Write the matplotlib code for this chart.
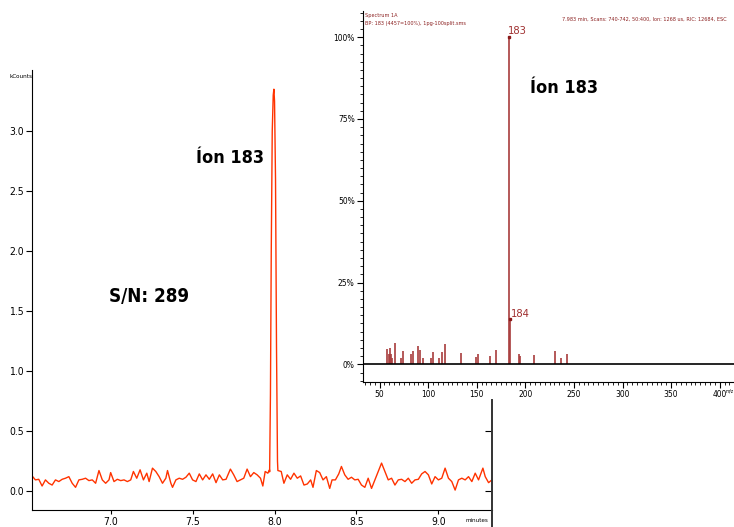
import numpy as np
import matplotlib
matplotlib.use("Agg")
import matplotlib.pyplot as plt
import matplotlib.ticker as ticker
from matplotlib import font_manager

# chromatogram baseline (zoom pixel x, intensity kCounts)
base_left_px = [95, 105, 115, 125, 135, 145, 155, 165, 175, 185, 195, 205, 215, 225,
                235, 245, 255, 265, 275, 285, 295, 305, 315, 325, 330, 340, 350, 360,
                370, 380, 390, 398, 408, 418, 428, 438, 445, 455, 465, 475, 485, 495,
                500, 510, 515, 525, 535, 545, 555, 565, 575, 585, 595, 605, 615, 625,
                635, 645, 655, 665, 675, 688, 698, 708, 718, 728, 738, 748, 758, 768,
                778, 785, 792, 800, 805]
base_left_val = [0.126, 0.093, 0.098, 0.042, 0.093, 0.065, 0.050, 0.093, 0.079, 0.098,
                 0.107, 0.120, 0.065, 0.031, 0.093, 0.098, 0.107, 0.087, 0.093, 0.065,
                 0.171, 0.093, 0.065, 0.093, 0.154, 0.079, 0.098, 0.087, 0.093, 0.079,
                 0.093, 0.163, 0.107, 0.177, 0.093, 0.149, 0.079, 0.191, 0.163, 0.120,
                 0.065, 0.107, 0.171, 0.065, 0.031, 0.093, 0.107, 0.098, 0.115, 0.149,
                 0.093, 0.079, 0.143, 0.093, 0.135, 0.098, 0.143, 0.070, 0.135, 0.093,
                 0.098, 0.183, 0.135, 0.079, 0.093, 0.107, 0.183, 0.120, 0.154, 0.135,
                 0.107, 0.042, 0.163, 0.149, 0.177]
peak_t = [7.970, 7.975, 7.980, 7.986, 7.992, 7.996, 8.000, 8.006, 8.012, 8.018]
peak_val = [0.16, 0.80, 2.00, 3.00, 3.30, 3.35, 3.25, 2.60, 1.20, 0.25]
base_right_px = [830, 840, 848, 858, 868, 878, 888, 898, 908, 918, 928, 935, 945, 955,
                 965, 975, 985, 992, 1002, 1012, 1020, 1030, 1040, 1050, 1060, 1070,
                 1080, 1090, 1100, 1110, 1120, 1130, 1140, 1150, 1160, 1170, 1180, 1190,
                 1200, 1210, 1220, 1230, 1240, 1250, 1260, 1270, 1280, 1290, 1300, 1310,
                 1320, 1330, 1340, 1350, 1360, 1370, 1380, 1390, 1400, 1410, 1420, 1430,
                 1443, 1450, 1460, 1470, 1475]
base_right_val = [0.171, 0.163, 0.065, 0.135, 0.098, 0.149, 0.107, 0.126, 0.050, 0.059,
                  0.093, 0.031, 0.171, 0.154, 0.093, 0.120, 0.022, 0.093, 0.093, 0.143,
                  0.205, 0.135, 0.098, 0.115, 0.093, 0.098, 0.050, 0.031, 0.107, 0.022,
                  0.093, 0.163, 0.233, 0.163, 0.093, 0.107, 0.050, 0.093, 0.098, 0.079,
                  0.107, 0.065, 0.093, 0.098, 0.143, 0.163, 0.135, 0.059, 0.120, 0.093,
                  0.107, 0.191, 0.107, 0.079, 0.008, 0.093, 0.107, 0.093, 0.120, 0.079,
                  0.149, 0.093, 0.191, 0.120, 0.070, 0.093, 0.143]

# mass spectrum (m/z, relative abundance %)
mz = [58, 60, 61, 62, 63, 66, 72, 74, 82, 84, 90, 92, 95, 103, 105, 111, 114, 117,
      134, 149, 151, 164, 170, 183, 184, 194, 195, 209, 231, 237, 243]
abund = [4.8, 3.3, 5.1, 3.1, 2.0, 6.5, 2.0, 4.1, 3.3, 4.1, 5.5, 4.3, 2.0, 2.0, 3.8,
         2.0, 3.8, 6.1, 3.6, 2.2, 3.1, 2.4, 4.5, 100.0, 14.0, 3.1, 2.4, 2.8, 4.0, 1.9, 3.3]


def px_to_min(px):
    return 7.0 + (np.array(px) - 330) / 490.0


def narrow_fonts():
    # look for any condensed / narrow sans face, fall back to Liberation Sans
    reg, bold = None, None
    for f in font_manager.fontManager.ttflist:
        tag = (f.name + ' ' + f.fname).lower()
        if not ('narrow' in tag or 'condensed' in tag or f.stretch in ('condensed', 'semi-condensed')):
            continue
        if 'mono' in tag or 'serif' in tag.replace('sans', '') or f.style != 'normal':
            continue
        w = f.weight if isinstance(f.weight, int) else 400
        if w in (400, 'normal') and reg is None:
            reg = f.fname
        if w == 700 and bold is None:
            bold = f.fname
    if reg is None:
        reg_fp = font_manager.FontProperties(family='Liberation Sans')
    else:
        reg_fp = font_manager.FontProperties(fname=reg)
    if bold is None:
        bold_fp = font_manager.FontProperties(family='Liberation Sans', weight='bold')
    else:
        bold_fp = font_manager.FontProperties(fname=bold)
    return reg_fp, bold_fp


def main():
    reg_fp, bold_fp = narrow_fonts()
    t = np.concatenate([px_to_min(base_left_px), peak_t, px_to_min(base_right_px)])
    y = np.concatenate([base_left_val, peak_val, base_right_val])

    fig = plt.figure(figsize=(7.34, 5.27), dpi=100)
    ax = fig.add_axes([32/734, 17/527, 460/734, 440/527])
    ax.plot(t, y, color='#ff3300', lw=1.0)
    ax.set_xlim(6.52, 9.327)
    ax.set_ylim(-0.158, 3.51)
    ax.set_yticks(np.arange(0, 3.01, 0.5))
    ax.xaxis.set_major_locator(ticker.MultipleLocator(0.5))
    ax.xaxis.set_major_formatter(ticker.FormatStrFormatter('%.1f'))
    ax.yaxis.set_major_formatter(ticker.FormatStrFormatter('%.1f'))
    ax.spines['top'].set_visible(False)
    ax.spines['right'].set_visible(False)
    ax.tick_params(axis='y', direction='out', length=4, width=0.8, pad=2)
    ax.tick_params(axis='x', direction='out', length=3, width=0.8, pad=2)
    for lab in ax.get_xticklabels() + ax.get_yticklabels():
        lab.set_fontproperties(reg_fp)
        lab.set_fontsize(7.5)

    # right edge line with inward ticks (mostly hidden behind the spectrum)
    axr = ax.twinx()
    axr.set_ylim(ax.get_ylim())
    axr.set_yticks(np.arange(0, 3.01, 0.5))
    axr.set_yticklabels([])
    axr.tick_params(axis='y', direction='in', length=5, width=0.8)
    for side in ['top', 'left', 'bottom']:
        axr.spines[side].set_visible(False)
    axr.spines['right'].set_bounds(-0.30, 0.76)
    axr.spines['right'].set_linewidth(1.4)
    axr.spines['right'].set_color('#333333')

    ax.text(7.52, 2.78, 'Íon 183', fontproperties=bold_fp, fontsize=13, ha='left', va='center')
    ax.text(6.99, 1.62, 'S/N: 289', fontproperties=bold_fp, fontsize=13.5, ha='left', va='center')
    fig.text(10/734, 1 - 76/527, 'kCounts', fontproperties=reg_fp, fontsize=4.5, va='center')
    fig.text(488/734, 1 - 521/527, 'minutes', fontproperties=reg_fp, fontsize=4.5,
             ha='right', va='center')

    # mass spectrum inset
    ax2 = fig.add_axes([363/734, 145/527, 371/734, 371/527])
    ax2.set_facecolor('white')
    ax2.vlines(mz, 0, abund, colors='#a83c3c', lw=1.2)
    ax2.plot([183, 184], [100.0, 14.0], 's', color='#8b1a1a', ms=2)
    ax2.axhline(0, color='black', lw=1.2)
    ax2.set_xlim(33, 414.7)
    ax2.set_ylim(-5.4, 108.0)
    ax2.xaxis.set_major_locator(ticker.MultipleLocator(50))
    ax2.xaxis.set_minor_locator(ticker.MultipleLocator(5))
    ax2.yaxis.set_major_locator(ticker.MultipleLocator(25))
    ax2.yaxis.set_minor_locator(ticker.MultipleLocator(2.5))
    ax2.yaxis.set_major_formatter(ticker.FormatStrFormatter('%d%%'))
    ax2.spines['top'].set_visible(False)
    ax2.spines['right'].set_visible(False)
    ax2.tick_params(which='major', direction='out', length=4, width=0.8, pad=2)
    ax2.tick_params(which='minor', direction='out', length=2, width=0.6)
    for lab in ax2.get_xticklabels() + ax2.get_yticklabels():
        lab.set_fontproperties(reg_fp)
        lab.set_fontsize(6)
    ax2.text(182.4, 100.3, '183', fontproperties=reg_fp, fontsize=8, color='#a03030',
             ha='left', va='bottom')
    ax2.text(185.0, 15.5, '184', fontproperties=reg_fp, fontsize=8, color='#a03030',
             ha='left', va='center')
    ax2.text(205, 84.5, 'Íon 183', fontproperties=bold_fp, fontsize=13, ha='left', va='center')
    ax2.text(2/371, 1 - 4/371, 'Spectrum 1A', fontproperties=reg_fp, fontsize=4,
             color='#8b2020', transform=ax2.transAxes, va='center')
    ax2.text(2/371, 1 - 13/371, 'BP: 183 (4457=100%), 1pg-100split.sms', fontproperties=reg_fp,
             fontsize=4, color='#8b2020', transform=ax2.transAxes, va='center')
    ax2.text(364/371, 1 - 8/371,
             '7.983 min, Scans: 740-742, 50:400, Ion: 1268 us, RIC: 12684, ESC',
             fontproperties=reg_fp, fontsize=4, color='#8b2020', transform=ax2.transAxes,
             ha='right', va='center')
    fig.text(734/734, 1 - 391/527, 'm/z', fontproperties=reg_fp, fontsize=3.5,
             ha='right', va='center')

    fig.savefig('out.png', dpi=100)
    return 0


if __name__ == "__main__":
    main()
